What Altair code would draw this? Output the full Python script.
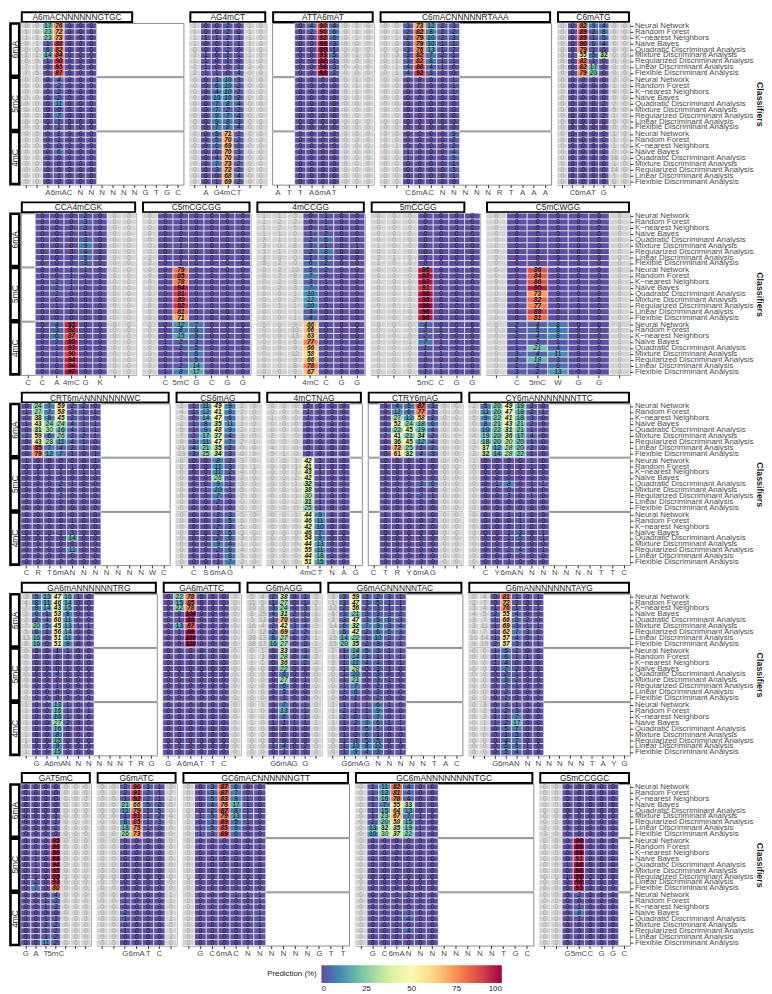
import json
import pandas as pd
import altair as alt

CLASSIFIERS = ["Neural Network", "Random Forest", "K\u2212nearest Neighbors", "Naive Bayes",
               "Quadratic Discriminant Analysis", "Mixture Discriminant Analysis",
               "Regularized Discriminant Analysis", "Linear Discriminant Analysis",
               "Flexible Discriminant Analysis"]
TYPES = ["6mA", "5mC", "4mC"]

# ---------------- row 1 ----------------
M01_TITLE = "A6mACNNNNNNGTGC"
M01_POS = ["", "", "A", "6mA", "C", "N", "N", "N", "N", "N", "N", "G", "T", "G", "C"]
M01_FIRST = 0
M01_6MA = [[0,0,17,76,0,0,0],[1,0,23,72,0,0,0],[1,1,23,73,0,0,0],[0,1,1,88,0,0,0],[0,0,6,82,0,0,0],
           [1,1,14,84,0,0,0],[0,0,1,90,0,0,0],[7,1,0,91,0,0,0],[7,5,0,87,0,0,0]]
M01_5MC = [[0,0,0,4,0,0,0],[0,0,0,2,0,0,0],[0,0,0,2,0,0,0],[0,0,0,2,0,0,0],[0,0,0,11,0,0,0],
           [0,0,0,0,0,0,0],[0,0,0,7,0,0,0],[0,0,0,1,0,0,0],[0,0,0,1,0,0,0]]
M01_4MC = [[0,0,0,1,0,0,0],[0,0,0,1,0,0,0],[0,0,0,0,0,0,0],[0,0,0,6,0,0,0],[0,0,0,0,0,0,0],
           [0,0,0,0,0,0,0],[0,0,0,0,0,0,0],[0,0,0,1,0,0,0],[0,0,0,0,0,0,0]]

M02_TITLE = "AG4mCT"
M02_POS = ["", "A", "G", "4mC", "T", "", ""]
M02_FIRST = 0
M02_6MA = [[1,0,0,2,0,1,0],[1,0,0,2,0,1,0],[1,1,1,2,1,1,0],[1,0,0,1,1,1,0],[0,0,0,2,0,1,0],
           [2,1,0,1,1,1,0],[1,1,0,1,0,1,0],[2,1,0,0,1,2,0],[2,1,1,0,4,0,0]]
M02_5MC = [[0,0,3,10,3,0,0],[0,0,6,10,2,0,0],[0,0,4,10,2,0,0],[0,0,10,10,2,0,0],[0,0,7,8,4,0,0],
           [0,0,7,2,2,0,0],[0,0,9,7,4,0,0],[0,0,9,8,3,0,0],[0,0,7,8,4,0,0]]
M02_4MC = [[0,0,5,71,2,0,0],[0,0,5,70,2,0,0],[0,0,6,69,2,0,0],[0,0,0,70,3,0,0],[0,0,4,70,2,0,0],
           [0,0,7,73,2,0,0],[0,0,3,72,2,0,0],[0,0,0,68,4,0,0],[0,0,1,69,2,0,0]]

M03_TITLE = "ATTA6mAT"
M03_POS = ["A", "T", "T", "A", "6mA", "T", "", "", ""]
M03_FIRST = 2
M03_6MA = [[0,4,90,4,0,1,0],[0,2,90,6,0,1,0],[0,0,92,6,0,1,0],[0,0,96,3,0,0,0],[0,0,98,1,0,1,0],
           [0,0,93,5,0,1,0],[0,0,98,1,0,0,0],[0,0,96,3,0,0,0],[0,0,98,2,0,0,0]]
M03_5MC = [[0,0,0,0,0,1,0],[0,0,0,0,0,1,0],[0,0,0,0,0,1,0],[0,0,0,0,0,0,0],[0,0,0,0,0,0,0],
           [0,0,0,0,0,0,0],[0,0,0,0,0,0,0],[0,0,0,0,0,0,0],[0,0,0,0,0,0,0]]
M03_4MC = [[0,0,0,0,0,0,0]] * 9

M04_TITLE = "C6mACNNNNNRTAAA"
M04_POS = ["", "", "C", "6mA", "C", "N", "N", "N", "N", "N", "R", "T", "A", "A", "A"]
M04_FIRST = 0
M04_6MA = [[0,0,3,73,12,2,3],[0,1,2,82,8,2,2],[0,1,2,79,10,2,3],[0,0,3,79,10,1,1],[0,0,3,76,13,1,2],
           [0,3,3,82,7,2,1],[0,1,3,82,8,1,1],[0,1,4,88,4,1,0],[0,1,4,92,3,0,0]]
M04_5MC = [[0,0,0,0,0,0,1],[0,0,0,0,0,0,1],[0,0,0,0,0,0,1],[0,0,0,0,0,0,0],[0,0,0,0,0,0,0],
           [0,0,0,0,0,0,0],[0,0,0,0,0,0,0],[0,0,0,0,0,0,0],[0,0,0,0,0,0,0]]
M04_4MC = [[0,0,0,0,0,0,5],[0,0,0,0,0,0,2],[0,1,0,0,0,0,2],[0,0,1,0,0,0,4],[0,0,1,0,0,0,5],
           [0,0,0,0,0,0,1],[0,0,0,0,0,0,3],[0,0,0,0,0,0,1],[0,0,0,0,0,0,0]]

M05_TITLE = "C6mATG"
M05_POS = ["", "C", "6mA", "T", "G", "", ""]
M05_FIRST = 0
M05_6MA = [[0,0,82,9,4,0,0],[0,0,89,2,8,0,0],[0,0,89,1,5,0,0],[0,0,90,6,4,0,0],[0,0,79,1,0,0,0],
           [0,2,55,5,32,0,0],[0,0,82,1,0,0,0],[0,0,82,17,0,0,0],[0,0,79,20,0,0,0]]
M05_5MC = [[0,0,0,0,0,2,0],[0,0,0,0,0,1,0],[0,0,0,0,0,4,0],[0,0,0,0,0,0,0],[0,0,0,0,2,2,0],
           [0,0,0,0,0,5,0],[0,0,0,0,2,1,0],[0,0,0,0,0,0,0],[0,0,0,0,0,0,0]]
M05_4MC = [[0,0,0,0,0,1,0],[0,0,0,0,0,1,0],[0,0,0,0,0,1,0],[0,0,0,0,0,0,0],[0,0,0,0,0,16,0],
           [0,0,0,0,0,1,0],[0,0,0,0,0,14,0],[0,0,0,0,0,1,0],[0,0,0,0,0,0,0]]

# ---------------- row 2 ----------------
M06_TITLE = "CCA4mCGK"
M06_POS = ["C", "C", "A", "4mC", "G", "K", "", ""]
M06_FIRST = 1
M06_6MA = [[0,0,0,2,0,0,0],[0,0,0,3,0,0,0],[0,0,0,3,0,0,0],[0,0,0,1,0,0,0],[0,0,0,3,0,0,0],
           [0,0,0,9,0,0,0],[0,0,0,4,0,0,0],[0,0,0,5,0,0,0],[0,0,0,3,0,0,0]]
M06_5MC = [[0,0,1,1,0,0,0],[0,0,1,0,0,0,0],[0,2,1,1,0,0,0],[0,2,1,0,0,0,0],[0,2,0,0,0,0,0],
           [0,0,0,0,0,0,0],[0,1,0,0,0,0,0],[0,0,0,0,0,0,0],[0,0,0,0,0,0,0]]
M06_4MC = [[0,4,93,0,0,0,0],[0,3,92,0,0,0,0],[0,6,87,0,0,0,0],[0,2,95,0,0,0,0],[0,1,93,0,0,0,0],
           [0,1,90,0,0,0,0],[0,1,94,0,0,0,0],[0,0,94,0,0,0,0],[0,0,97,0,0,0,0]]

M07_TITLE = "C5mCGCGG"
M07_POS = ["", "C", "5mC", "G", "C", "G", "G"]
M07_FIRST = 0
M07_6MA = [[0,0,0,0,0,0,0],[0,0,1,0,0,0,0],[0,0,1,0,0,0,0],[0,0,0,0,0,0,0],[0,0,0,0,0,0,0],
           [0,0,1,0,0,0,0],[0,0,0,0,0,0,0],[2,0,0,0,0,0,0],[2,0,1,0,0,0,0]]
M07_5MC = [[0,0,79,0,0,0,0],[0,0,85,0,0,0,0],[0,0,78,0,0,0,0],[0,0,94,0,0,0,0],[0,0,91,0,0,0,0],
           [0,0,89,0,0,0,0],[0,0,92,0,0,0,0],[0,0,81,0,0,0,0],[0,0,71,0,0,0,0]]
M07_4MC = [[0,0,12,7,0,0,0],[0,0,8,6,0,0,0],[0,0,15,5,0,0,0],[0,1,2,3,0,0,0],[0,0,2,5,0,0,0],
           [0,0,0,8,0,0,0],[0,0,1,5,0,0,0],[0,0,2,14,0,0,0],[0,1,8,17,0,0,0]]

M08_TITLE = "4mCCGG"
M08_POS = ["", "", "", "4mC", "C", "G", "G"]
M08_FIRST = 0
M08_6MA = [[1,1,3,0,1,0,0],[1,2,2,0,1,0,0],[1,2,5,0,1,0,0],[1,1,0,1,2,0,0],[2,1,1,2,6,0,0],
           [3,0,8,3,1,0,1],[3,1,0,2,8,0,0],[4,0,0,1,4,0,0],[8,2,0,6,2,0,0]]
M08_5MC = [[0,2,10,5,2,0,0],[0,2,8,7,0,0,0],[0,2,8,3,1,0,0],[0,2,3,7,0,0,0],[0,0,1,10,0,0,0],
           [0,0,2,12,0,0,0],[0,1,1,10,0,0,0],[0,0,1,3,0,0,0],[0,0,1,4,0,0,0]]
M08_4MC = [[0,0,9,66,0,0,0],[0,0,10,66,0,0,0],[0,0,13,63,0,0,0],[0,0,6,77,0,0,0],[0,0,9,66,0,0,0],
           [0,0,12,58,0,0,0],[0,0,9,66,0,0,0],[0,0,8,78,0,0,0],[0,0,9,67,0,0,0]]

M09_TITLE = "5mCCGG"
M09_POS = ["", "", "", "5mC", "C", "G", "G"]
M09_FIRST = 0
M09_6MA = [[0,0,0,0,0,0,0],[0,0,0,0,0,0,0],[0,0,0,0,0,0,0],[0,0,0,0,0,0,0],[0,0,0,0,0,0,0],
           [1,0,0,0,0,0,0],[0,0,0,0,0,0,0],[2,1,0,0,0,0,0],[1,0,0,0,0,0,0]]
M09_5MC = [[0,0,0,95,0,0,0],[0,0,0,97,0,0,0],[0,0,0,97,0,0,0],[0,0,0,91,0,0,0],[0,0,1,98,0,0,0],
           [0,0,0,96,0,0,0],[0,0,1,99,0,0,0],[0,0,0,96,0,0,0],[0,0,0,96,0,0,0]]
M09_4MC = [[0,0,0,4,0,0,0],[0,0,0,2,1,0,0],[0,0,0,2,0,0,0],[0,0,1,7,1,0,0],[0,0,0,1,0,0,0],
           [0,0,0,1,1,0,0],[0,0,0,0,0,0,0],[0,0,0,0,1,0,0],[0,0,0,1,1,0,0]]

M10_TITLE = "C5mCWGG"
M10_POS = ["", "C", "5mC", "W", "G", "G", ""]
M10_FIRST = 0
M10_6MA = [[0,0,0,0,0,0,0]] * 9
M10_5MC = [[0,0,86,0,0,0,0],[0,0,84,0,0,0,0],[0,0,86,0,0,0,0],[0,0,95,0,0,0,0],[0,0,73,0,0,0,0],
           [0,0,82,0,1,0,0],[0,0,77,0,0,0,0],[0,0,89,0,0,0,0],[0,0,81,0,0,0,0]]
M10_4MC = [[0,2,4,8,0,0,0],[0,2,5,8,0,0,0],[0,2,4,8,0,0,0],[0,1,2,1,0,0,0],[0,1,21,4,0,0,0],
           [0,3,4,11,0,0,0],[0,2,18,3,0,0,0],[0,2,2,6,0,0,0],[0,3,2,13,0,0,0]]

# ---------------- row 3 ----------------
M11_TITLE = "CRT6mANNNNNNNWC"
M11_POS = ["C", "R", "T", "6mA", "N", "N", "N", "N", "N", "N", "N", "W", "C"]
M11_FIRST = 0
M11_6MA = [[0,24,7,59,2,2,0],[1,27,7,58,2,1,1],[0,38,8,45,2,1,0],[1,43,24,24,4,1,1],[0,31,30,16,4,1,1],
           [3,59,6,26,2,2,1],[0,43,28,11,4,1,0],[0,85,7,4,2,1,0],[0,79,12,7,1,0,1]]
M11_5MC = [[1,0,0,0,0,0,1],[0,0,0,0,1,0,0],[0,1,1,1,0,1,1],[0,0,0,0,0,0,0],[0,0,0,2,1,0,0],
           [0,0,0,0,0,0,0],[0,0,0,2,0,0,0],[0,0,0,0,0,0,0],[0,0,0,0,0,0,0]]
M11_4MC = [[0,0,0,0,0,0,0],[0,0,0,0,1,0,0],[0,0,0,0,0,0,0],[0,0,0,1,3,0,0],[0,0,0,0,14,0,0],
           [0,0,0,0,0,0,0],[0,0,0,0,11,0,0],[0,0,0,0,0,0,0],[0,0,0,0,0,0,0]]

M12_TITLE = "CS6mAG"
M12_POS = ["", "C", "S", "6mA", "G", "", ""]
M12_FIRST = 0
M12_6MA = [[2,1,11,49,9,2,0],[4,1,12,41,8,2,0],[2,0,14,47,6,1,0],[2,1,8,35,11,1,0],[5,1,9,48,9,2,1],
           [7,2,17,37,4,3,0],[9,3,11,47,7,2,1],[21,4,21,35,2,0,0],[23,3,25,34,3,0,0]]
M12_5MC = [[0,0,0,8,2,3,0],[0,0,0,11,3,3,1],[0,0,0,11,2,4,0],[0,0,0,26,1,2,0],[0,0,0,9,1,3,0],
           [0,0,1,10,1,5,0],[0,0,0,7,0,2,0],[0,0,0,2,0,0,0],[0,0,0,1,0,0,0]]
M12_4MC = [[0,0,0,3,3,5,0],[0,0,0,3,5,6,0],[0,0,0,2,3,5,0],[0,0,0,3,5,3,0],[0,0,0,2,6,3,0],
           [0,0,0,9,4,1,0],[0,0,0,2,6,4,0],[0,0,0,1,8,5,0],[0,0,0,1,7,2,0]]

M13_TITLE = "4mCTNAG"
M13_POS = ["", "", "", "4mC", "T", "N", "A", "G"]
M13_FIRST = 0
M13_6MA = [[0,0,0,0,0,0,0],[0,0,0,1,0,0,0],[1,0,0,1,0,0,0],[0,0,0,0,0,0,0],[0,0,0,0,0,0,0],
           [2,1,0,0,0,0,0],[0,0,0,0,0,0,0],[4,1,0,0,0,0,0],[5,1,0,0,0,0,0]]
M13_5MC = [[0,0,1,42,1,0,0],[0,0,1,41,1,0,0],[0,0,1,43,1,0,0],[0,0,2,42,1,0,0],[0,0,1,32,1,0,0],
           [0,0,1,38,0,0,0],[0,0,1,30,1,0,0],[0,0,1,31,1,0,0],[0,0,0,25,1,0,0]]
M13_4MC = [[0,0,1,44,9,0,0],[0,0,0,46,11,0,0],[0,0,0,42,10,0,0],[0,0,0,46,7,0,0],[0,0,0,54,9,0,0],
           [0,0,0,44,13,0,0],[0,0,0,55,11,0,0],[0,0,0,44,18,0,0],[0,0,0,51,15,0,0]]

M14_TITLE = "CTRY6mAG"
M14_POS = ["C", "T", "R", "Y", "6mA", "G", "", ""]
M14_FIRST = 1
M14_6MA = [[0,4,6,87,3,0,0],[0,12,6,77,3,0,0],[0,27,12,58,2,0,0],[0,52,24,18,6,0,0],[0,22,45,19,4,0,0],
           [2,41,21,34,2,0,0],[0,36,45,12,4,0,0],[0,72,25,1,2,0,0],[0,61,32,4,3,0,0]]
M14_5MC = [[0,0,0,0,0,0,0],[0,0,0,0,0,0,0],[0,0,0,0,0,0,0],[0,0,0,0,0,0,0],[0,0,0,3,6,0,0],
           [0,0,0,0,0,0,0],[0,0,0,2,1,0,0],[0,0,0,0,0,0,0],[0,0,0,0,0,0,0]]
M14_4MC = [[0,0,0,0,0,0,0],[0,0,0,0,2,0,0],[0,0,0,0,0,0,0],[0,0,0,0,0,0,0],[0,0,0,0,0,0,0],
           [0,0,0,0,0,0,0],[0,0,0,0,0,0,0],[0,0,0,0,0,0,0],[0,0,0,0,0,0,0]]

M15_TITLE = "CY6mANNNNNNNTTC"
M15_POS = ["", "C", "Y", "6mA", "N", "N", "N", "N", "N", "N", "N", "T", "T", "C"]
M15_FIRST = 0
M15_6MA = [[2,5,20,49,19,2,0],[0,11,20,47,18,2,1],[5,9,22,41,18,3,0],[0,8,21,43,21,2,0],[0,10,22,31,21,1,0],
           [4,19,20,36,17,4,0],[1,18,20,30,20,1,0],[2,37,12,28,20,2,0],[2,32,14,28,22,1,0]]
M15_5MC = [[1,0,0,0,0,1,0],[0,0,0,0,0,1,0],[0,0,0,0,0,0,0],[0,0,0,0,0,0,0],[0,0,1,8,0,1,1],
           [0,0,0,0,0,0,0],[0,0,0,3,0,1,0],[0,0,0,0,0,0,0],[0,0,0,0,0,0,0]]
M15_4MC = [[0,0,0,1,1,0,0],[0,0,0,0,1,0,0],[0,0,0,0,1,0,0],[0,0,0,1,3,0,1],[0,0,0,1,5,0,1],
           [0,0,0,0,0,0,0],[0,0,0,2,4,0,1],[0,0,0,0,0,0,0],[0,0,0,1,0,0,0]]

# ---------------- row 4 ----------------
M16_TITLE = "GA6mANNNNNNTRG"
M16_POS = ["", "G", "A", "6mA", "N", "N", "N", "N", "N", "N", "T", "R", "G"]
M16_FIRST = 0
M16_6MA = [[3,5,13,47,16,1,0],[4,8,11,46,14,0,0],[7,9,14,43,15,0,0],[3,6,1,53,8,0,0],[2,2,4,60,11,0,0],
           [7,20,5,45,13,1,1],[5,6,1,56,14,0,0],[13,16,0,51,11,0,0],[8,16,0,51,9,0,0]]
M16_5MC = [[0,0,0,1,1,0,0],[0,0,0,0,0,0,0],[0,0,0,0,0,0,0],[0,0,0,0,1,0,0],[0,0,0,4,0,0,0],
           [0,0,0,0,0,0,0],[0,0,0,1,0,0,0],[0,0,0,0,0,0,0],[0,0,0,0,0,0,0]]
M16_4MC = [[1,0,0,13,1,0,0],[1,0,0,16,1,0,1],[1,0,0,10,1,0,0],[1,0,0,27,2,0,0],[1,0,0,16,0,0,0],
           [1,0,0,8,0,0,0],[1,0,0,15,0,0,0],[0,0,0,9,0,0,0],[1,0,0,15,0,0,0]]

M17_TITLE = "GA6mATTC"
M17_POS = ["G", "A", "6mA", "T", "T", "C", ""]
M17_FIRST = 0
M17_6MA = [[0,22,78,0,0,0,0],[0,15,85,0,0,0,0],[0,22,78,0,0,0,0],[0,0,100,0,0,0,0],[0,1,99,0,0,0,0],
           [0,13,87,0,0,0,0],[0,1,99,0,0,0,0],[0,0,100,0,0,0,0],[0,0,100,0,0,0,0]]
M17_5MC = [[0,0,0,0,0,0,0]] * 9
M17_4MC = [[0,0,0,0,0,0,0]] * 9

M18_TITLE = "G6mAGG"
M18_POS = ["", "", "G", "6mA", "G", "G", ""]
M18_FIRST = 0
M18_6MA = [[5,4,2,38,0,1,2],[11,5,1,27,0,1,2],[10,5,3,24,0,3,1],[8,25,4,31,2,1,1],[3,13,1,70,1,1,3],
           [16,4,2,42,3,4,2],[7,12,2,69,2,2,1],[38,13,8,27,0,2,1],[38,17,16,27,0,2,1]]
M18_5MC = [[0,1,0,33,0,3,1],[1,3,0,28,0,4,2],[1,1,0,36,1,2,4],[0,0,0,22,0,0,0],[0,0,0,6,0,0,0],
           [0,0,0,27,0,1,0],[0,0,0,6,0,0,0],[0,0,0,5,0,0,0],[0,0,0,1,0,0,0]]
M18_4MC = [[0,1,0,7,0,1,0],[1,0,0,13,0,1,0],[0,0,0,6,0,1,0],[1,0,1,1,1,1,1],[0,0,0,0,0,0,0],
           [0,0,0,0,0,0,0],[0,0,0,0,0,0,0],[0,0,1,4,0,2,0],[0,0,0,1,0,0,0]]

M19_TITLE = "G6mAGNNNNNTAC"
M19_POS = ["", "G", "6mA", "G", "N", "N", "N", "N", "N", "T", "A", "C"]
M19_FIRST = 0
M19_6MA = [[3,3,59,3,2,3,1],[1,3,47,3,5,1,1],[12,2,56,2,3,1,1],[8,3,21,3,3,3,2],[3,3,47,3,5,6,3],
           [14,6,32,7,9,3,4],[3,5,42,2,6,6,3],[15,14,22,1,10,2,2],[15,20,35,2,3,2,1]]
M19_5MC = [[2,1,14,5,3,1,1],[1,1,14,3,1,1,1],[3,1,11,4,4,0,1],[0,1,28,0,3,1,0],[0,1,10,0,3,0,0],
           [0,1,21,0,3,1,0],[0,1,7,0,2,0,0],[0,1,6,0,2,0,0],[0,0,1,0,2,0,0]]
M19_4MC = [[1,1,1,1,6,1,0],[1,2,1,1,9,0,0],[1,2,0,1,7,0,1],[1,1,2,9,6,1,1],[0,0,1,5,5,0,1],
           [0,1,0,6,1,0,0],[0,1,3,5,5,0,1],[0,1,10,8,10,0,0],[0,1,9,4,3,0,1]]

M20_TITLE = "G6mANNNNNNNTAYG"
M20_POS = ["", "", "G", "6mA", "N", "N", "N", "N", "N", "N", "N", "T", "A", "Y", "G"]
M20_FIRST = 0
M20_6MA = [[0,4,0,81,1,0,1],[2,7,0,72,2,0,0],[3,4,1,76,1,0,1],[4,5,2,55,4,0,0],[3,7,1,66,5,2,0],
           [3,11,1,69,3,1,1],[6,7,1,62,7,3,0],[10,14,1,57,4,0,1],[9,19,2,57,3,0,1]]
M20_5MC = [[0,0,1,5,2,0,0],[0,0,1,6,1,1,0],[0,0,1,4,0,0,0],[0,0,0,7,2,0,0],[0,0,0,2,1,0,0],
           [0,0,0,5,2,0,0],[0,0,0,3,1,0,0],[0,0,0,2,0,0,0],[0,0,0,1,0,0,0]]
M20_4MC = [[0,3,0,3,1,0,0],[0,2,1,2,3,0,0],[0,2,1,1,7,0,0],[0,1,1,2,17,0,0],[0,1,0,5,7,0,0],
           [0,0,0,1,3,0,0],[0,0,0,4,7,0,0],[0,0,0,5,5,1,0],[0,0,0,5,4,0,0]]

# ---------------- row 5 ----------------
M21_TITLE = "GAT5mC"
M21_POS = ["G", "A", "T", "5mC", "", "", ""]
M21_FIRST = 0
M21_6MA = [[0,0,0,0,0,0,0],[0,0,0,0,0,0,0],[0,0,0,0,0,0,0],[0,0,0,0,0,0,0],[0,0,0,0,0,0,0],
           [0,0,0,1,0,0,0],[0,0,0,1,0,0,0],[0,0,0,1,0,0,0],[0,0,0,0,0,0,0]]
M21_5MC = [[0,0,0,95,0,0,0],[0,0,0,96,0,0,0],[0,1,0,96,0,0,0],[0,1,0,98,0,0,0],[0,1,0,94,2,0,0],
           [0,1,0,95,0,0,0],[0,1,0,95,1,0,0],[0,2,0,93,0,0,0],[0,7,0,80,0,0,0]]
M21_4MC = [[0,0,0,4,0,0,0],[0,0,1,3,0,0,0],[0,0,1,3,0,0,0],[0,0,0,0,0,0,0],[0,0,1,1,0,0,0],
           [0,0,2,2,0,0,0],[0,0,1,1,0,0,0],[0,0,3,2,0,0,0],[0,0,11,2,0,0,0]]

M22_TITLE = "G6mATC"
M22_POS = ["", "", "G", "6mA", "T", "C", ""]
M22_FIRST = 0
M22_6MA = [[0,0,2,90,3,1,2],[0,0,2,91,2,1,2],[0,0,1,92,2,1,2],[0,0,21,66,5,2,0],[0,0,11,79,1,5,0],
           [0,0,1,91,1,2,4],[0,0,8,85,1,3,0],[0,0,18,75,1,0,0],[0,0,26,73,0,0,0]]
M22_5MC = [[0,0,0,0,0,0,0]] * 9
M22_4MC = [[0,0,0,0,0,0,1],[0,0,1,0,0,0,1],[0,0,0,0,0,0,0],[0,0,2,0,0,0,3],[0,0,1,0,0,0,2],
           [0,0,0,0,0,0,0],[0,0,1,0,0,0,1],[0,0,0,0,0,0,3],[0,0,0,0,0,0,0]]

M23_TITLE = "GC6mACNNNNNNGTT"
M23_POS = ["", "G", "C", "6mA", "C", "N", "N", "N", "N", "N", "N", "G", "T", "T"]
M23_FIRST = 0
M23_6MA = [[0,0,3,87,6,0,0],[0,0,3,87,7,0,0],[0,0,5,83,9,1,0],[0,0,4,76,17,1,0],[0,0,2,87,8,1,0],
           [0,1,5,79,13,1,0],[0,0,3,89,5,1,0],[0,1,5,85,9,0,0],[0,1,3,89,6,0,0]]
M23_5MC = [[0,0,0,0,0,0,0],[0,0,0,0,0,0,1],[0,0,0,0,0,0,0],[0,0,0,0,0,0,0],[0,0,0,0,0,0,0],
           [0,0,0,0,0,0,0],[0,0,0,0,0,0,0],[0,0,0,0,0,0,0],[0,0,0,0,0,0,0]]
M23_4MC = [[0,0,0,0,1,1,1],[0,0,0,0,0,0,1],[0,0,0,0,0,0,0],[0,0,0,0,0,1,1],[0,0,0,0,0,0,1],
           [0,0,0,0,0,0,1],[0,0,0,0,0,0,1],[0,0,0,0,0,1,1],[0,0,0,0,0,0,0]]

M24_TITLE = "GC6mANNNNNNNNTGC"
M24_POS = ["", "G", "C", "6mA", "N", "N", "N", "N", "N", "N", "N", "N", "T", "G", "C"]
M24_FIRST = 0
M24_6MA = [[0,1,11,82,4,0,0],[0,1,12,81,4,0,0],[0,1,16,78,4,0,0],[0,1,7,55,33,0,0],[0,1,15,64,13,0,0],
           [0,1,23,67,7,1,0],[0,2,20,58,15,0,0],[0,13,32,35,19,1,0],[0,10,30,37,22,1,0]]
M24_5MC = [[0,0,0,0,0,0,0],[0,0,0,0,0,0,0],[0,0,0,0,0,0,0],[0,0,0,0,0,0,0],[0,0,0,0,2,0,0],
           [0,0,0,0,0,0,0],[0,0,0,0,0,0,0],[0,0,0,0,0,0,0],[0,0,0,0,0,0,0]]
M24_4MC = [[0,0,0,0,2,0,0],[0,0,0,0,0,0,0],[0,0,0,0,0,0,0],[0,0,0,0,3,0,0],[0,0,0,0,4,0,0],
           [0,0,0,0,0,0,0],[0,0,0,0,4,0,0],[0,0,0,0,0,0,0],[0,0,0,0,0,0,0]]

M25_TITLE = "G5mCCGGC"
M25_POS = ["", "", "G", "5mC", "C", "G", "G", "C"]
M25_FIRST = 0
M25_6MA = [[0,0,0,0,0,0,0],[0,0,0,0,0,0,0],[0,0,0,0,0,0,0],[0,0,0,0,0,0,0],[0,0,0,0,0,0,0],
           [0,0,0,0,0,0,0],[0,0,0,0,0,0,0],[2,0,0,0,0,0,0],[3,0,0,0,0,0,0]]
M25_5MC = [[0,0,0,98,0,0,0],[0,0,0,99,0,0,0],[0,0,0,99,0,0,0],[0,0,0,91,0,0,0],[0,0,1,98,0,0,0],
           [0,0,0,98,0,0,0],[0,0,1,99,0,0,0],[0,0,0,98,0,0,0],[0,0,0,95,0,0,0]]
M25_4MC = [[0,0,0,2,0,0,0],[0,0,0,0,0,0,0],[0,0,0,1,0,0,0],[0,0,0,8,0,0,0],[0,0,0,1,0,0,0],
           [0,0,0,0,0,0,0],[0,0,0,0,0,0,0],[0,0,0,0,0,0,0],[0,0,0,1,0,0,0]]

MOTIFS = {
    "M01": (M01_TITLE, M01_POS, M01_FIRST, [M01_6MA, M01_5MC, M01_4MC]),
    "M02": (M02_TITLE, M02_POS, M02_FIRST, [M02_6MA, M02_5MC, M02_4MC]),
    "M03": (M03_TITLE, M03_POS, M03_FIRST, [M03_6MA, M03_5MC, M03_4MC]),
    "M04": (M04_TITLE, M04_POS, M04_FIRST, [M04_6MA, M04_5MC, M04_4MC]),
    "M05": (M05_TITLE, M05_POS, M05_FIRST, [M05_6MA, M05_5MC, M05_4MC]),
    "M06": (M06_TITLE, M06_POS, M06_FIRST, [M06_6MA, M06_5MC, M06_4MC]),
    "M07": (M07_TITLE, M07_POS, M07_FIRST, [M07_6MA, M07_5MC, M07_4MC]),
    "M08": (M08_TITLE, M08_POS, M08_FIRST, [M08_6MA, M08_5MC, M08_4MC]),
    "M09": (M09_TITLE, M09_POS, M09_FIRST, [M09_6MA, M09_5MC, M09_4MC]),
    "M10": (M10_TITLE, M10_POS, M10_FIRST, [M10_6MA, M10_5MC, M10_4MC]),
    "M11": (M11_TITLE, M11_POS, M11_FIRST, [M11_6MA, M11_5MC, M11_4MC]),
    "M12": (M12_TITLE, M12_POS, M12_FIRST, [M12_6MA, M12_5MC, M12_4MC]),
    "M13": (M13_TITLE, M13_POS, M13_FIRST, [M13_6MA, M13_5MC, M13_4MC]),
    "M14": (M14_TITLE, M14_POS, M14_FIRST, [M14_6MA, M14_5MC, M14_4MC]),
    "M15": (M15_TITLE, M15_POS, M15_FIRST, [M15_6MA, M15_5MC, M15_4MC]),
    "M16": (M16_TITLE, M16_POS, M16_FIRST, [M16_6MA, M16_5MC, M16_4MC]),
    "M17": (M17_TITLE, M17_POS, M17_FIRST, [M17_6MA, M17_5MC, M17_4MC]),
    "M18": (M18_TITLE, M18_POS, M18_FIRST, [M18_6MA, M18_5MC, M18_4MC]),
    "M19": (M19_TITLE, M19_POS, M19_FIRST, [M19_6MA, M19_5MC, M19_4MC]),
    "M20": (M20_TITLE, M20_POS, M20_FIRST, [M20_6MA, M20_5MC, M20_4MC]),
    "M21": (M21_TITLE, M21_POS, M21_FIRST, [M21_6MA, M21_5MC, M21_4MC]),
    "M22": (M22_TITLE, M22_POS, M22_FIRST, [M22_6MA, M22_5MC, M22_4MC]),
    "M23": (M23_TITLE, M23_POS, M23_FIRST, [M23_6MA, M23_5MC, M23_4MC]),
    "M24": (M24_TITLE, M24_POS, M24_FIRST, [M24_6MA, M24_5MC, M24_4MC]),
    "M25": (M25_TITLE, M25_POS, M25_FIRST, [M25_6MA, M25_5MC, M25_4MC]),
}

# layout: (motif, panel width, title-box width)
ROWS = [
    [("M01", 165, 114), ("M02", 78, 78), ("M03", 103, 103), ("M04", 174, 174), ("M05", 74, 74)],
    [("M06", 117, 117), ("M07", 110, 110), ("M08", 110, 110), ("M09", 111, 96), ("M10", 146, 146)],
    [("M11", 151, 151), ("M12", 86, 86), ("M13", 97, 97), ("M14", 96, 96), ("M15", 164, 164)],
    [("M16", 138, 138), ("M17", 79, 79), ("M18", 76, 76), ("M19", 137, 137), ("M20", 164, 164)],
    [("M21", 71, 71), ("M22", 81, 81), ("M23", 169, 169), ("M24", 181, 181), ("M25", 92, 92)],
]

FONT = "Liberation Sans"
TH = 11
FH = 54
ROW_GAP = 4
GREY = "#D3D3D3"

COLOR = alt.Color(
    "v:Q",
    scale=alt.Scale(scheme="spectral", reverse=True, domain=[0, 100]),
    legend=alt.Legend(
        title="Prediction (%)", orient="none", legendX=250, legendY=968,
        direction="horizontal", titleOrient="left", gradientLength=183,
        gradientThickness=18, values=[0, 25, 50, 75, 100], titleFontWeight="normal",
        titleFontSize=8, labelFontSize=8, titleFont=FONT, labelFont=FONT,
        titleColor="#1a1a1a", labelColor="#1a1a1a", titlePadding=4, titleBaseline="middle",
    ),
)


def panel(pos, first, mat, ftype, w, is_first, is_last, bottom, middle):
    n = len(pos)
    mod = next(i for i, p in enumerate(pos) if "m" in p)
    recs = []
    for r, cls in enumerate(CLASSIFIERS):
        for j, v in enumerate(mat[r]):
            c = first + j
            fl = pos[c] == ""
            recs.append({"cls": cls, "col": c, "v": v, "flank": fl,
                         "bold": (not fl) and v >= 31, "ital": (not fl) and c == mod})
    df = pd.DataFrame(recs)

    if bottom:
        xaxis = alt.Axis(labelExpr=json.dumps(pos) + "[datum.value]", labelAngle=0,
                         tickSize=3, tickColor="#333333", labelColor="#4d4d4d",
                         labelFontSize=8, labelFont=FONT, labelPadding=1, domain=False,
                         labelOverlap=False, labelBound=False)
    else:
        xaxis = None
    x = alt.X("col:O", scale=alt.Scale(domain=list(range(n)), paddingInner=0, paddingOuter=0),
              axis=xaxis, title=None)
    if is_last:
        yaxis = alt.Axis(orient="right", tickColor="#333333", tickSize=3, domain=False,
                         labelFontSize=8, labelFont=FONT, labelColor="#4d4d4d", labelPadding=1.5,
                         labelOverlap=False, titleAngle=90, titleFontWeight="bold",
                         titleFontSize=9, titleFont=FONT, titleColor="#1a1a1a", titlePadding=1)
    else:
        yaxis = None
    y = alt.Y("cls:N", scale=alt.Scale(domain=CLASSIFIERS, paddingInner=0, paddingOuter=0),
              axis=yaxis, title=("Classifiers" if (is_last and middle) else None), sort=CLASSIFIERS)

    base = alt.Chart(df)
    cells = base.mark_rect(stroke="white", strokeWidth=0.6).transform_filter(
        "!datum.flank").encode(x=x, y=y, color=COLOR)
    greys = base.mark_rect(stroke="white", strokeWidth=0.6, color=GREY).transform_filter(
        "datum.flank").encode(x=x, y=y)
    texts = base.mark_text(
        font=FONT, fontSize=6.6, baseline="middle", align="center",
        fontWeight={"expr": "datum.bold ? 'bold' : 'normal'"},
        fontStyle={"expr": "datum.ital ? 'italic' : 'normal'"},
    ).encode(x=x, y=y, text="v:Q",
             color=alt.condition("datum.flank", alt.value("#A0A0A0"), alt.value("#111111")))
    layers = [cells, greys, texts]
    if is_first:
        sdf = pd.DataFrame({"t": [ftype]})
        sbox = alt.Chart(sdf).mark_rect(fill="white", stroke="black", strokeWidth=2.6).encode(
            x=alt.value(-10.5), x2=alt.value(-1.6), y=alt.value(0.5), y2=alt.value(FH - 0.5))
        stxt = alt.Chart(sdf).mark_text(font=FONT, fontSize=8.5, angle=270, color="#1a1a1a",
                                        baseline="middle", align="center").encode(
            x=alt.value(-6), y=alt.value(FH / 2), text="t:N")
        layers += [sbox, stxt]
    return alt.layer(*layers).properties(width=w, height=FH)


def title_box(text, tw):
    tdf = pd.DataFrame({"t": [text]})
    box = alt.Chart(tdf).mark_rect(fill="white", stroke="black", strokeWidth=2).encode(
        x=alt.value(1), x2=alt.value(tw - 1), y=alt.value(1), y2=alt.value(TH))
    txt = alt.Chart(tdf).mark_text(font=FONT, fontSize=8.5, color="#1a1a1a",
                                   baseline="middle", align="center").encode(
        x=alt.value(tw / 2), y=alt.value(TH / 2 + 0.7), text="t:N")
    return alt.layer(box, txt).properties(width=tw, height=TH,
                                          view=alt.ViewBackground(strokeOpacity=0))


rows = []
for row in ROWS:
    items = []
    for k, (key, w, tw) in enumerate(row):
        title, pos, first, mats = MOTIFS[key]
        parts = [title_box(title, tw)]
        for f, ftype in enumerate(TYPES):
            parts.append(panel(pos, first, mats[f], ftype, w, k == 0, k == len(row) - 1,
                               f == 2, f == 1))
        items.append(alt.vconcat(*parts, spacing=1, bounds="flush").resolve_scale(
            x="independent", y="independent"))
    rows.append(alt.hconcat(*items, spacing=4).resolve_scale(
        x="independent", y="independent"))

chart = alt.vconcat(*rows, spacing=ROW_GAP).resolve_scale(
    x="independent", y="independent"
).properties(padding={"left": 0, "right": 0, "top": -4, "bottom": 0}).configure_view(
    stroke="#8C8C8C", strokeWidth=1)

chart.save("out.html", embed_options={"renderer": "svg", "actions": False})
